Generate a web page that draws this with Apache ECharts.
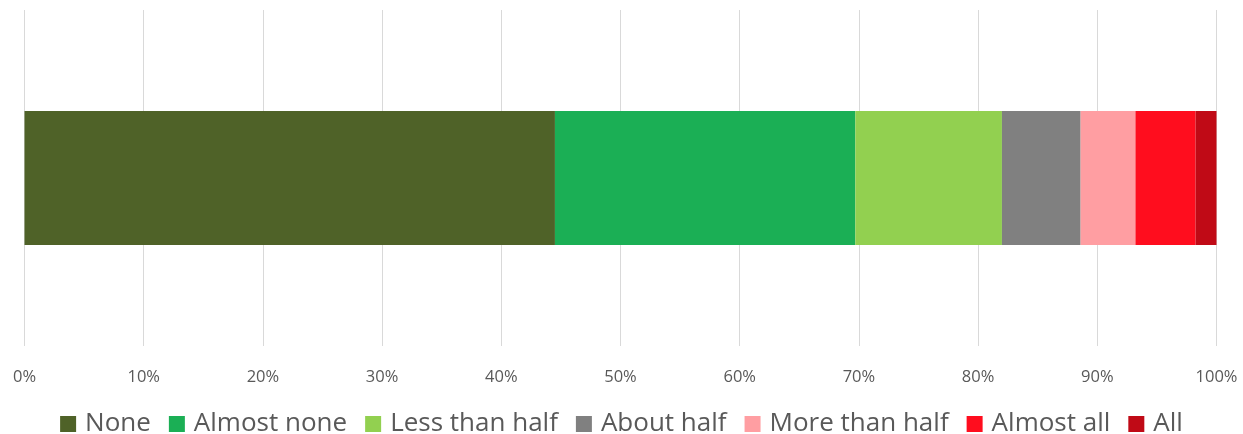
<!DOCTYPE html>
<html>
<head>
<meta charset="utf-8">
<script src="https://cdn.jsdelivr.net/npm/echarts@6/dist/echarts.min.js"></script>
<style>html,body{margin:0;padding:0;background:#fff}#c{width:1243px;height:434px}</style>
</head>
<body>
<div id="c"></div>
<script>
const categories = [''];
const seriesNames = ['None', 'Almost none', 'Less than half', 'About half', 'More than half', 'Almost all', 'All'];
const seriesValues = [44.5, 25.2, 12.3, 6.6, 4.6, 5.05, 1.75];
const seriesColors = ['#4F6228', '#1BAF55', '#92D050', '#808080', '#FF9EA2', '#FF0D1E', '#C00A16'];
const tickValues = [0, 10, 20, 30, 40, 50, 60, 70, 80, 90, 100];

const chart = echarts.init(document.getElementById('c'));
chart.setOption({
  animation: false,
  grid: { left: 24.5, right: 26.5, top: 10, bottom: 88 },
  legend: {
    bottom: -8,
    left: 'center',
    itemWidth: 16,
    itemHeight: 16,
    itemGap: 18,
    icon: 'rect',
    textStyle: { fontSize: 26, color: '#595959', fontFamily: 'Open Sans', padding: [0, 0, 0, 4] },
    data: seriesNames
  },
  xAxis: {
    type: 'value',
    min: 0, max: 100, interval: 10,
    axisLine: { show: false },
    axisTick: { show: false },
    splitLine: { lineStyle: { color: '#d9d9d9', width: 1 } },
    axisLabel: { formatter: v => v + '%', fontSize: 16.5, color: '#595959', margin: 23, fontFamily: 'Open Sans' }
  },
  yAxis: {
    type: 'category',
    data: categories,
    axisLine: { show: false },
    axisTick: { show: false },
    axisLabel: { show: false }
  },
  series: seriesNames.map((name, i) => ({
    name,
    type: 'bar',
    stack: 'total',
    barWidth: 134,
    itemStyle: { color: seriesColors[i] },
    data: [seriesValues[i]]
  }))
});
</script>
</body>
</html>
